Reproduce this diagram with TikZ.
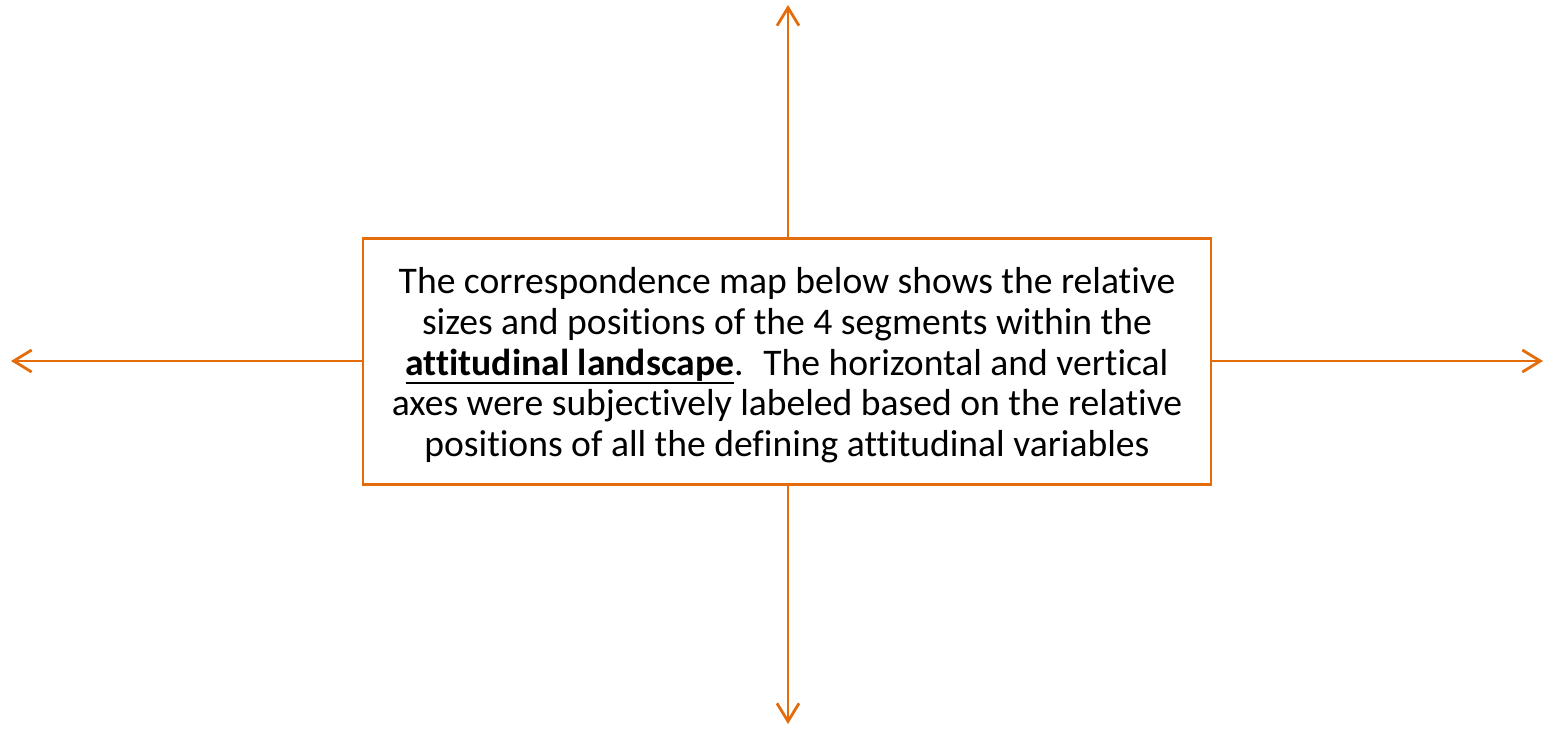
\documentclass[tikz,border=0pt]{standalone}
\usepackage{fontspec}
\setmainfont[Ligatures=NoCommon]{Carlito}
\usetikzlibrary{arrows.meta,positioning}
\definecolor{corange}{HTML}{E46C0A}
\newcommand{\keyterm}[1]{\setbox0\hbox{\textbf{#1}}\rlap{\rule[-4.6pt]{\wd0}{1pt}}\box0}

\begin{document}
\begin{tikzpicture}[x=0.5pt,y=-0.5pt,
  axis/.style={draw=corange,line width=1.4pt,-{Straight Barb[length=9pt,width=11pt,line width=1.4pt]}},
  notebox/.style={draw=corange,line width=1.4pt,fill=white,minimum width=424pt,minimum height=123pt,
    align=center,font=\fontsize{18.8}{20.35}\selectfont,inner sep=0pt}]
  \useasboundingbox (0,0) rectangle (1546,729);
  \coordinate (top) at (788,5);
  \coordinate (bottom) at (788,724);
  \coordinate (left) at (11,361);
  \coordinate (right) at (1543,361);
  \node[notebox] (note) at (787,361.5) {\rule{0pt}{17pt}The correspondence map below shows the relative\\
    sizes and positions of the 4 segments within the\\
    \keyterm{attitudinal landscape}.~ The horizontal and vertical\\
    axes were subjectively labeled based on the relative\\
    positions of all the defining attitudinal variables};
  \draw[axis] (note.north -| top) -- (top);
  \draw[axis] (note.south -| bottom) -- (bottom);
  \draw[axis] (note.west |- left) -- (left);
  \draw[axis] (note.east |- right) -- (right);
\end{tikzpicture}
\end{document}
